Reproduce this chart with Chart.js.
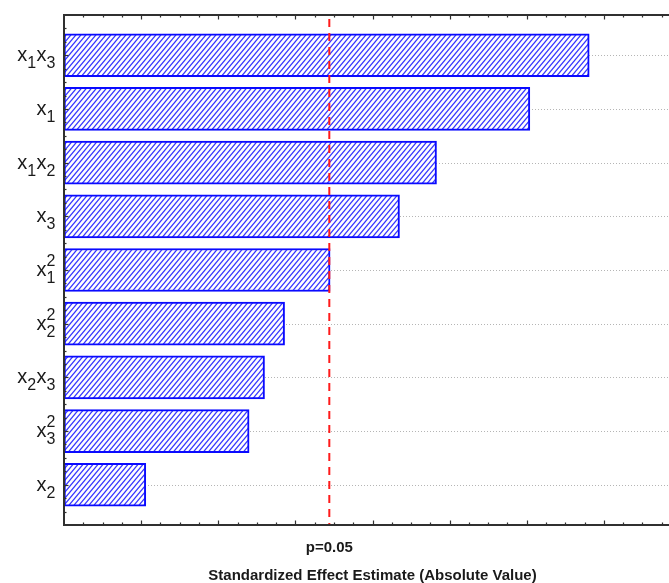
<!DOCTYPE html>
<html>
<head>
<meta charset="utf-8">
<script src="https://cdn.jsdelivr.net/npm/chart.js@4/dist/chart.umd.min.js"></script>
<style>
  html, body { margin: 0; padding: 0; overflow: hidden; background: #fff; }
  #wrap { position: relative; width: 690px; height: 583px; }
</style>
</head>
<body>
<div id="wrap"><canvas id="pareto"></canvas></div>
<script>
// Pareto chart of standardized effects, largest first.
// Each term is a product of factors x_k; termFactors holds the subscripts,
// termPowers the exponent (2 = quadratic term).
const termFactors = [["1", "3"], ["1"], ["1", "2"], ["3"], ["1"], ["2"], ["2", "3"], ["3"], ["2"]];
const termPowers  = [1, 1, 1, 1, 2, 2, 1, 2, 1];
const effectValues = [6.81, 6.04, 4.83, 4.35, 3.45, 2.86, 2.60, 2.40, 1.06];
const critValue = 3.44;
const critLabel = "p=0.05";
const axisTitle = "Standardized Effect Estimate (Absolute Value)";
const xMin = 0, xMax = 8, xMinorStep = 0.25;

const FONT = '"Liberation Sans", Arial, sans-serif';

// diagonal hatch used as the bar fill
function makeHatch() {
  const w = 5, h = 6;
  const c = document.createElement('canvas');
  c.width = w; c.height = h;
  const g = c.getContext('2d');
  g.fillStyle = '#ffffff';
  g.fillRect(0, 0, w, h);
  g.strokeStyle = '#3535ff';
  g.lineWidth = 1.25;
  for (const off of [-w, 0, w]) {
    g.beginPath();
    g.moveTo(off - w, 2 * h);
    g.lineTo(off + 2 * w, -h);
    g.stroke();
  }
  return g.createPattern(c, 'repeat');
}

const ctx = document.getElementById('pareto').getContext('2d');

const framePlugin = {
  id: 'frame',
  beforeDatasetsDraw(chart) {
    const { ctx, chartArea: a, scales: { y } } = chart;
    // dotted guide lines through each term
    ctx.save();
    ctx.strokeStyle = '#b5b5b5';
    ctx.lineWidth = 1;
    ctx.setLineDash([1, 2]);
    termPowers.forEach((_, i) => {
      const py = Math.round(y.getPixelForValue(i)) + 0.5;
      ctx.beginPath();
      ctx.moveTo(a.left, py);
      ctx.lineTo(a.right, py);
      ctx.stroke();
    });
    ctx.restore();
  },
  afterDatasetsDraw(chart) {
    const { ctx, chartArea: a, scales: { x, y } } = chart;
    ctx.save();

    // critical value line
    const cx = x.getPixelForValue(critValue);
    ctx.strokeStyle = '#ff1a1a';
    ctx.lineWidth = 2;
    ctx.setLineDash([8, 6]);
    ctx.beginPath();
    ctx.moveTo(cx, a.top + 4);
    ctx.lineTo(cx, a.bottom);
    ctx.stroke();
    ctx.setLineDash([]);

    // axis frame
    ctx.strokeStyle = '#303030';
    ctx.lineWidth = 2;
    ctx.beginPath();
    ctx.moveTo(a.right, a.top);
    ctx.lineTo(a.left, a.top);
    ctx.lineTo(a.left, a.bottom);
    ctx.lineTo(a.right, a.bottom);
    ctx.lineTo(a.right, a.top);
    ctx.stroke();

    // inward tick marks on the horizontal axes
    ctx.lineWidth = 1.2;
    const nX = Math.round((xMax - xMin) / xMinorStep);
    for (let k = 1; k < nX; k++) {
      const v = xMin + k * xMinorStep;
      const px = Math.round(x.getPixelForValue(v)) + 0.5;
      const len = (k % 4 === 0) ? 4.5 : 2.5;
      ctx.beginPath();
      ctx.moveTo(px, a.bottom);
      ctx.lineTo(px, a.bottom - len);
      ctx.moveTo(px, a.top);
      ctx.lineTo(px, a.top + len);
      ctx.stroke();
    }
    // inward tick marks on the term axis
    const yLo = y.min, yHi = y.max;
    const nY = Math.round((yHi - yLo) / 0.25);
    for (let k = 1; k < nY; k++) {
      const v = yLo + k * 0.25;
      const py = Math.round(y.getPixelForValue(v)) + 0.5;
      const major = Math.abs(v - Math.round(v)) < 1e-6;
      ctx.beginPath();
      ctx.moveTo(a.left, py);
      ctx.lineTo(a.left + (major ? 4.5 : 2.5), py);
      ctx.stroke();
    }

    // term labels with subscripts / superscripts
    ctx.fillStyle = '#1a1a1a';
    ctx.textBaseline = 'alphabetic';
    const bigFont = '20px ' + FONT;
    const smallFont = '16px ' + FONT;
    termFactors.forEach((factors, i) => {
      const cy = y.getPixelForValue(i);
      const base = cy + 6;
      ctx.font = bigFont;
      const wx = ctx.measureText('x').width;
      ctx.font = smallFont;
      let total = 0;
      factors.forEach(s => { total += wx + ctx.measureText(s).width + 0.5; });
      let px = a.left - 8 - total;
      factors.forEach(s => {
        ctx.font = bigFont;
        ctx.textAlign = 'left';
        ctx.fillText('x', px, base);
        px += wx;
        ctx.font = smallFont;
        ctx.fillText(s, px, base + 7);
        if (termPowers[i] === 2) ctx.fillText('2', px, base - 10);
        px += ctx.measureText(s).width + 0.5;
      });
    });

    // critical value caption and axis title
    ctx.textAlign = 'center';
    ctx.font = 'bold 15px ' + FONT;
    ctx.fillText(critLabel, cx, 551.5);
    ctx.fillText(axisTitle, (a.left + a.right) / 2, 580);

    ctx.restore();
  }
};

new Chart(ctx, {
  type: 'bar',
  data: {
    datasets: [{
      data: effectValues.map((v, i) => ({ x: v, y: i })),
      backgroundColor: makeHatch(),
      borderColor: '#0a0aff',
      borderWidth: 2,
      borderSkipped: false,
      barThickness: 43
    }]
  },
  options: {
    indexAxis: 'y',
    responsive: true,
    maintainAspectRatio: false,
    animation: false,
    events: [],
    layout: { padding: { left: 64, top: 15, right: 9, bottom: 58 } },
    plugins: { legend: { display: false }, tooltip: { enabled: false } },
    scales: {
      x: { type: 'linear', min: xMin, max: xMax, offset: false, display: false },
      y: { type: 'linear', min: -0.75, max: 8.75, reverse: true, offset: false, display: false }
    }
  },
  plugins: [framePlugin]
});
</script>
</body>
</html>
